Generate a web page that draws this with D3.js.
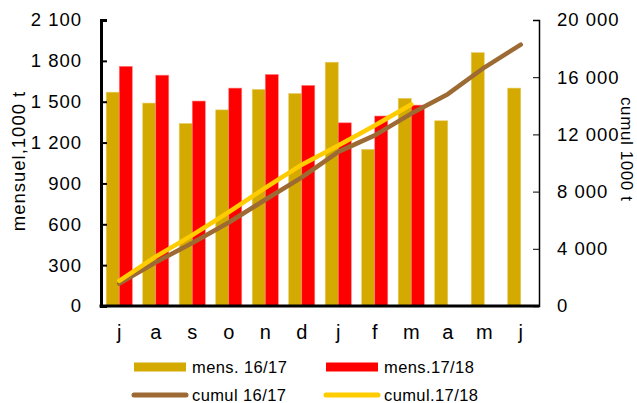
<!DOCTYPE html>
<html>
<head>
    <meta charset="utf-8" />
    <script src="https://cdn.jsdelivr.net/npm/d3@7"></script>
    <style>
        body { margin: 0; background: #fff; }
        svg { font-family: "Liberation Sans", Arial, sans-serif; }
    </style>
</head>
<body>
<div id="chart"></div>
<script>
    // months (juillet -> juin)
    var months = ["j", "a", "s", "o", "n", "d", "j", "f", "m", "a", "m", "j"]
    var mens1617 = [1570, 1490, 1340, 1440, 1590, 1560, 1790, 1150, 1525, 1360, 1860, 1600]
    var mens1718 = [1760, 1695, 1505, 1600, 1700, 1620, 1345, 1395, 1475]
    var cumul1617 = [1570, 3060, 4400, 5840, 7430, 8990, 10780, 11930, 13455, 14815, 16675, 18275]
    var cumul1718 = [1760, 3455, 4960, 6560, 8260, 9880, 11225, 12620, 14095]
    var leftTicks = [0, 300, 600, 900, 1200, 1500, 1800, 2100]
    var rightTicks = [0, 4000, 8000, 12000, 16000, 20000]

    var W = 637, H = 403
    var x0 = 101, x1 = 539, yTop = 20, yBot = 306

    var fmt = function(v) { return d3.format(",")(v).replace(/,/g, " ") }

    var svg = d3.select("#chart").append("svg")
        .attr("width", W).attr("height", H)

    var idx = months.map(function(d, i) { return i })
    var x = d3.scaleBand().domain(idx).range([x0, x1])
    var xs = d3.scaleBand().domain([0, 1]).range([0, x.bandwidth()]).paddingOuter(0.4)
    var yL = d3.scaleLinear().domain([0, 2100]).range([yBot, yTop])
    var yR = d3.scaleLinear().domain([0, 20000]).range([yBot, yTop])

    // bars
    var gold = "#D4AA00", red = "#FF0000"
    svg.append("g").selectAll("rect").data(mens1617).join("rect")
        .attr("x", function(d, i) { return x(i) + xs(0) })
        .attr("width", xs.bandwidth())
        .attr("y", function(d) { return yL(d) })
        .attr("height", function(d) { return yBot - yL(d) })
        .attr("fill", gold).attr("stroke", "#E8CC66").attr("stroke-width", 0.6)
    svg.append("g").selectAll("rect").data(mens1718).join("rect")
        .attr("x", function(d, i) { return x(i) + xs(1) })
        .attr("width", xs.bandwidth())
        .attr("y", function(d) { return yL(d) })
        .attr("height", function(d) { return yBot - yL(d) })
        .attr("fill", red).attr("stroke", "#FF8080").attr("stroke-width", 0.6)

    // cumulative lines
    var line = d3.line()
        .x(function(d, i) { return x(i) + x.bandwidth() / 2 })
        .y(function(d) { return yR(d) })
    svg.append("path").datum(cumul1617).attr("d", line)
        .attr("fill", "none").attr("stroke", "#9C6A32").attr("stroke-width", 4.5)
        .attr("stroke-linecap", "round").attr("stroke-linejoin", "round")
    svg.append("path").datum(cumul1718).attr("d", line)
        .attr("fill", "none").attr("stroke", "#FFCC00").attr("stroke-width", 4.5)
        .attr("stroke-linecap", "round").attr("stroke-linejoin", "round")

    // left axis
    var axL = svg.append("g").attr("transform", "translate(" + x0 + ",0)")
        .call(d3.axisRight(yL).tickValues(leftTicks).tickSize(6).tickFormat(""))
    axL.select(".domain").attr("stroke-width", 3)
    axL.selectAll(".tick line").attr("stroke-width", 2)
    svg.append("g").selectAll("text").data(leftTicks).join("text")
        .attr("x", 82).attr("y", function(d) { return yL(d) })
        .attr("dy", "0.35em").attr("text-anchor", "end")
        .attr("font-size", 18.5).attr("letter-spacing", 1).text(fmt)

    // right axis
    var axR = svg.append("g").attr("transform", "translate(" + x1 + ",0)")
        .call(d3.axisLeft(yR).tickValues(rightTicks).tickSize(6).tickFormat(""))
    axR.select(".domain").attr("stroke-width", 1.5)
    svg.append("g").selectAll("text").data(rightTicks).join("text")
        .attr("x", 557).attr("y", function(d) { return yR(d) })
        .attr("dy", "0.35em").attr("text-anchor", "start")
        .attr("font-size", 18.5).attr("letter-spacing", 1).text(fmt)

    // bottom axis
    svg.append("line").attr("x1", x0 - 1.5).attr("x2", x1)
        .attr("y1", yBot).attr("y2", yBot)
        .attr("stroke", "#000").attr("stroke-width", 3)
    svg.append("g").selectAll("text").data(months).join("text")
        .attr("x", function(d, i) { return x(i) + x.bandwidth() / 2 })
        .attr("y", 339)
        .attr("text-anchor", "middle").attr("font-size", 20)
        .text(function(d) { return d })

    // axis titles
    svg.append("text").attr("transform", "translate(25,161) rotate(-90)")
        .attr("text-anchor", "middle").attr("font-size", 18.5).attr("letter-spacing", 1)
        .text("mensuel,1000 t")
    svg.append("text").attr("transform", "translate(621,97) rotate(90)")
        .attr("text-anchor", "start").attr("font-size", 17).attr("letter-spacing", 0.6)
        .text("cumul 1000 t")

    // legend
    var legend = [
        { label: "mens. 16/17", color: gold, type: "bar", x: 134, y: 367 },
        { label: "mens.17/18", color: red, type: "bar", x: 326, y: 367 },
        { label: "cumul 16/17", color: "#9C6A32", type: "line", x: 134, y: 395 },
        { label: "cumul.17/18", color: "#FFCC00", type: "line", x: 326, y: 395 }
    ]
    var lg = svg.append("g").selectAll("g").data(legend).join("g")
        .attr("transform", function(d) { return "translate(" + d.x + "," + d.y + ")" })
    lg.filter(function(d) { return d.type == "bar" }).append("rect")
        .attr("x", 0).attr("y", -4.5).attr("width", 52).attr("height", 9)
        .attr("fill", function(d) { return d.color })
    lg.filter(function(d) { return d.type == "line" }).append("line")
        .attr("x1", 0).attr("x2", 52).attr("y1", 0).attr("y2", 0)
        .attr("stroke", function(d) { return d.color }).attr("stroke-width", 5)
        .attr("stroke-linecap", "round")
    lg.append("text").attr("x", 58).attr("dy", "0.35em")
        .attr("font-size", 16.5).attr("letter-spacing", 0.4).text(function(d) { return d.label })
</script>
</body>
</html>
